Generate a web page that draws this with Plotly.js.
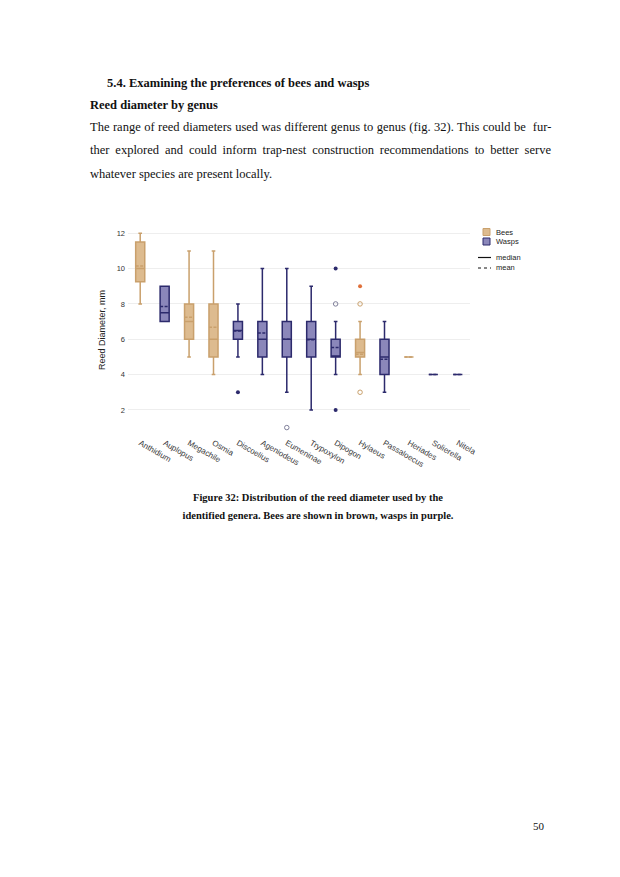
<!DOCTYPE html>
<html>
<head>
<meta charset="utf-8">
<script src="https://cdn.plot.ly/plotly-3.0.1.min.js"></script>
<style>
  html, body { margin: 0; padding: 0; background: #fff; width: 620px; height: 877px; overflow: hidden; }
  #chart { position: absolute; left: 0; top: 0; width: 620px; height: 877px; }
  .t { position: absolute; font-family: "Liberation Serif", "Times New Roman", serif; color: #111; white-space: nowrap; line-height: normal; z-index: 5; }
</style>
</head>
<body>
<div id="chart"></div>
<div class="t" style="left:107px; top:75.5px; font-size:12.5px; font-weight:bold;">5.4. Examining the preferences of bees and wasps</div>
<div class="t" style="left:90px; top:98.3px; font-size:12.5px; font-weight:bold;">Reed diameter by genus</div>
<div class="t just" data-w="461" style="left:90px; top:120px; font-size:12.5px;">The range of reed diameters used was different genus to genus (fig. 32). This could be&nbsp; fur-</div>
<div class="t just" data-w="461" style="left:90px; top:143.3px; font-size:12.5px;">ther explored and could inform trap-nest construction recommendations to better serve</div>
<div class="t" style="left:90px; top:166.7px; font-size:12.5px;">whatever species are present locally.</div>
<div class="t" style="left:0; width:636px; text-align:center; top:492px; font-size:10.5px; font-weight:bold;">Figure 32: Distribution of the reed diameter used by the</div>
<div class="t" style="left:0; width:636px; text-align:center; top:510px; font-size:10.5px; font-weight:bold;">identified genera. Bees are shown in brown, wasps in purple.</div>
<div class="t" style="left:533px; top:820px; font-size:11px;">50</div>
<script>
// ---- data (mm) ----
const genera      = ["Anthidium","Auplopus","Megachile","Osmia","Discoelius","Ageniodeus","Eumeninae","Trypoxylon","Dipogon","Hylaeus","Passaloecus","Heriades","Solierella","Nitela"];
const isBee       = [true, false, true, true, false, false, false, false, false, true, false, true, false, false];
const lowerFence  = [8, 7, 5, 4, 5, 4, 3, 2, 4, 4, 3, 5, 4, 4];
const q1          = [9.25, 7, 6, 5, 6, 5, 5, 5, 5, 5, 4, 5, 4, 4];
const median      = [10, 7.5, 7, 6, 6.5, 6, 6, 6, 5, 5.25, 5, 5, 4, 4];
const q3          = [11.5, 9, 8, 8, 7, 7, 7, 7, 6, 6, 6, 5, 4, 4];
const upperFence  = [12, 9, 11, 11, 8, 10, 10, 9, 7, 7, 7, 5, 4, 4];
const mean        = [10.15, 7.85, 7.25, 6.68, 6.47, 6.35, 6.0, 5.97, 5.53, 5.15, 4.87, 5, 4, 4];
// outliers: genus, value, kind ("filled" or "open")
const outlierGenus = ["Discoelius","Eumeninae","Dipogon","Dipogon","Dipogon","Hylaeus","Hylaeus","Hylaeus"];
const outlierValue = [3, 1, 10, 8, 2, 9, 8, 3];
const outlierKind  = ["filled","open","filled","open","filled","filled","open","open"];
const yTicks = [2, 4, 6, 8, 10, 12];

// ---- justify the body lines ----
document.querySelectorAll(".just").forEach(el => {
  const target = parseFloat(el.dataset.w);
  const natural = el.getBoundingClientRect().width;
  const gaps = (el.textContent.match(/ /g) || []).length;
  if (gaps > 0) el.style.wordSpacing = ((target - natural) / gaps) + "px";
});

// ---- styling ----
const BEE_FILL = "rgba(221,187,143,1)", BEE_LINE = "#c9a06c";
const WASP_FILL = "rgba(139,135,186,1)", WASP_LINE = "#2c2a6c";

function pick(arr, bee) { return arr.filter((v, i) => isBee[i] === bee); }
function boxTrace(bee) {
  return {
    type: "box", name: bee ? "Bees" : "Wasps", showlegend: false,
    x: pick(genera, bee), q1: pick(q1, bee), median: pick(median, bee), q3: pick(q3, bee),
    lowerfence: pick(lowerFence, bee), upperfence: pick(upperFence, bee), mean: pick(mean, bee),
    boxmean: true, boxpoints: false, whiskerwidth: 0.4,
    fillcolor: bee ? BEE_FILL : WASP_FILL,
    line: { color: bee ? BEE_LINE : WASP_LINE, width: 1.5 },
    hoverinfo: "skip"
  };
}
function outlierTrace(bee, kind) {
  const xs = [], ys = [];
  outlierGenus.forEach((g, i) => {
    const gi = genera.indexOf(g);
    if (isBee[gi] === bee && outlierKind[i] === kind) { xs.push(g); ys.push(outlierValue[i]); }
  });
  let marker;
  if (kind === "filled") marker = { symbol: "circle", size: 4, color: bee ? "#e0703a" : WASP_LINE };
  else marker = { symbol: "circle-open", size: 4.5, color: bee ? BEE_LINE : "#7f7f9a", line: { width: 1 } };
  return { type: "scatter", mode: "markers", x: xs, y: ys, marker, showlegend: false, hoverinfo: "skip" };
}

// pixel helpers for the (non-data) legend / titles
const L = 128, R = 470, T = 226, B = 432;
const px = x => (x - L) / (R - L);
const py = y => (B - y) / (B - T);

const shapes = [
  { type: "rect", xref: "paper", yref: "paper", x0: px(483), x1: px(490), y0: py(235.5), y1: py(228.5), fillcolor: BEE_FILL, line: { color: BEE_LINE, width: 1 } },
  { type: "rect", xref: "paper", yref: "paper", x0: px(483), x1: px(490), y0: py(245), y1: py(238), fillcolor: WASP_FILL, line: { color: WASP_LINE, width: 1 } },
  { type: "line", xref: "paper", yref: "paper", x0: px(478), x1: px(491), y0: py(257.5), y1: py(257.5), line: { color: "#111", width: 1.2 } },
  { type: "line", xref: "paper", yref: "paper", x0: px(478), x1: px(491), y0: py(268), y1: py(268), line: { color: "#111", width: 1, dash: "dot" } }
];
const legFont = { family: "Liberation Sans, Arial, sans-serif", size: 7.5, color: "#222" };
const annotations = [
  { xref: "paper", yref: "paper", x: px(494), y: py(232), text: "Bees", showarrow: false, xanchor: "left", yanchor: "middle", font: legFont },
  { xref: "paper", yref: "paper", x: px(494), y: py(241.5), text: "Wasps", showarrow: false, xanchor: "left", yanchor: "middle", font: legFont },
  { xref: "paper", yref: "paper", x: px(494), y: py(257.5), text: "median", showarrow: false, xanchor: "left", yanchor: "middle", font: legFont },
  { xref: "paper", yref: "paper", x: px(494), y: py(267.5), text: "mean", showarrow: false, xanchor: "left", yanchor: "middle", font: legFont },
  { xref: "paper", yref: "paper", x: px(102), y: py(330), text: "Reed Diameter, mm", textangle: -90, showarrow: false, xanchor: "center", yanchor: "middle",
    font: { family: "Liberation Sans, Arial, sans-serif", size: 9, color: "#222" } }
];

const data = [boxTrace(true), boxTrace(false),
  outlierTrace(false, "filled"), outlierTrace(false, "open"), outlierTrace(true, "filled"), outlierTrace(true, "open")];

const layout = {
  width: 620, height: 877,
  margin: { l: L, r: 620 - R, t: T, b: 877 - B, pad: 0 },
  paper_bgcolor: "rgba(0,0,0,0)", plot_bgcolor: "#fff",
  boxmode: "overlay", boxgap: 0.47,
  showlegend: false,
  font: { family: "Liberation Sans, Arial, sans-serif", size: 7.5, color: "#333" },
  xaxis: { type: "category", categoryorder: "array", categoryarray: genera, range: [-0.5, 13.5],
    tickangle: 30, showgrid: false, zeroline: false, showline: false, ticks: "",
    tickfont: { size: 8, color: "#3a3a3a" }, ticklabelstandoff: 4, fixedrange: true },
  yaxis: { range: [0.75, 12.41], tickvals: yTicks, ticktext: yTicks.map(String), showgrid: true,
    gridcolor: "#eeeeee", gridwidth: 1, zeroline: false, showline: false, ticks: "",
    tickfont: { size: 7.5, color: "#333" }, ticklabelstandoff: 2, fixedrange: true },
  shapes, annotations
};
Plotly.newPlot("chart", data, layout, { staticPlot: true, displayModeBar: false });
</script>
</body>
</html>
